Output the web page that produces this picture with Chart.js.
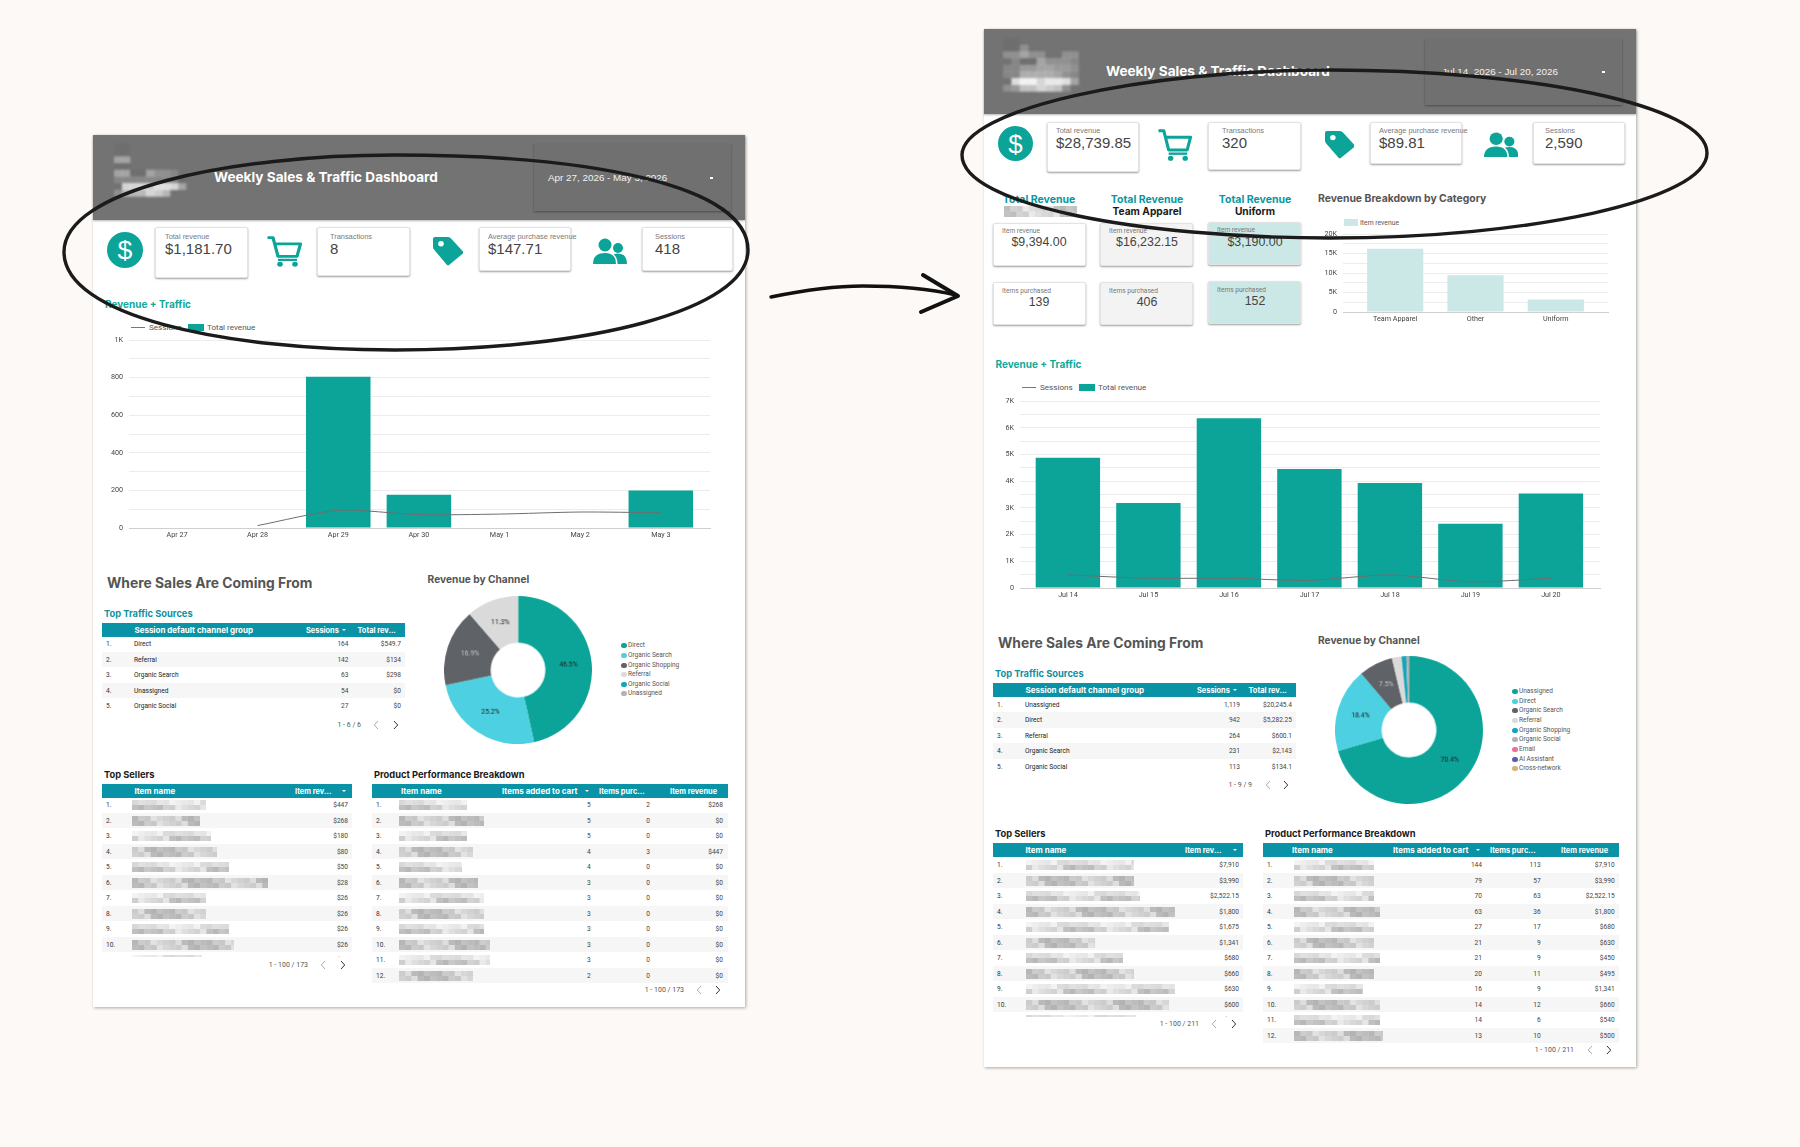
<!DOCTYPE html>
<html><head><meta charset="utf-8">
<script src="https://cdn.jsdelivr.net/npm/chart.js@4"></script>
<style>
html,body{margin:0;padding:0;background:#fcf9f6;width:1800px;height:1147px;overflow:hidden}
#stage{position:absolute;left:0;top:0;width:1800px;height:1147px;overflow:hidden;font-family:Roboto,sans-serif}
.t{position:absolute;white-space:nowrap;line-height:1}
canvas{position:absolute}
.layer{position:absolute;left:0;top:0;width:1800px;height:1147px}
</style></head><body><div id="stage"></div>
<script>
// ---------- DATA: earlier week ----------
const weekADays = ['Apr 27','Apr 28','Apr 29','Apr 30','May 1','May 2','May 3'];
const weekARevenue = [0,0,805,177,0,0,199.7];
const weekASessions = [null,13,94,71,74,85,81];
const weekAChannels = ['Direct','Organic Search','Organic Shopping','Referral','Organic Social','Unassigned'];
const weekAChannelRevenue = [549.7,298,200,134,0,0];
const weekAKpiLabels = ['Total revenue','Transactions','Average purchase revenue','Sessions'];
const weekAKpiValues = ['$1,181.70','8','$147.71','418'];
const weekATrafficNames = ['Direct','Referral','Organic Search','Unassigned','Organic Social'];
const weekATrafficSessions = ['164','142','63','54','27'];
const weekATrafficRevenue = ['$549.7','$134','$298','$0','$0'];
const weekASellerRevenue = ['$447','$268','$180','$80','$50','$28','$26','$26','$26','$26','$26'];
const weekACart = ['5','5','5','4','4','3','3','3','3','3','3','2'];
const weekAPurchased = ['2','0','0','3','0','0','0','0','0','0','0','0'];
const weekAItemRevenue = ['$268','$0','$0','$447','$0','$0','$0','$0','$0','$0','$0','$0'];

// ---------- DATA: later week ----------
const weekBDays = ['Jul 14','Jul 15','Jul 16','Jul 17','Jul 18','Jul 19','Jul 20'];
const weekBRevenue = [4875,3185,6355,4455,3930,2405,3535];
const weekBSessions = [490,365,365,285,490,230,365];
const weekBChannels = ['Unassigned','Direct','Organic Search','Referral','Organic Shopping','Organic Social','Email','AI Assistant','Cross-network'];
const weekBChannelRevenue = [20245.4,5282.25,2143,600.1,300,134.1,15,10,10];
const weekBKpiValues = ['$28,739.85','320','$89.81','2,590'];
const weekBTrafficNames = ['Unassigned','Direct','Referral','Organic Search','Organic Social'];
const weekBTrafficSessions = ['1,119','942','264','231','113'];
const weekBTrafficRevenue = ['$20,245.4','$5,282.25','$600.1','$2,143','$134.1'];
const weekBSellerRevenue = ['$7,910','$3,990','$2,522.15','$1,800','$1,675','$1,341','$680','$660','$630','$600','$540'];
const weekBCart = ['144','79','70','63','27','21','21','20','16','14','14','13'];
const weekBPurchased = ['113','57','63','36','17','9','9','11','9','12','6','10'];
const weekBItemRevenue = ['$7,910','$3,990','$2,522.15','$1,800','$680','$630','$450','$495','$1,341','$660','$540','$500'];
const categoryNames = ['Team Apparel','Other','Uniform'];
const categoryRevenue = [16232.15,9394,3190];
const categoryCardRevenue = ['$9,394.00','$16,232.15','$3,190.00'];
const categoryCardItems = ['139','406','152'];

// ---------- STYLE ----------
const TEAL='#0ca498', TEALTXT='#12a89b', TBLHEAD='#0a93a6', DEEP='#0f8f9f';
const PALETTE=['#0ca498','#4dd0e1','#5f6368','#dadada','#12a5bb','#b3b3b3','#ee6c9e','#5c5ea8','#d9b47a'];
const HEADFONT='Inter,sans-serif', ARIAL='"Liberation Sans",sans-serif';
const stage=document.getElementById('stage');
let cur=stage;

function box(x,y,w,h,css){const d=document.createElement('div');d.style.cssText=`position:absolute;left:${x}px;top:${y}px;width:${w}px;height:${h}px;box-sizing:border-box;${css||''}`;cur.appendChild(d);return d;}
function txt(x,y,s,o){o=o||{};const d=document.createElement('div');d.className='t';d.textContent=s;
 const tx=o.align==='right'?'-100%':o.align==='center'?'-50%':'0';
 d.style.cssText=`left:${x}px;top:${y}px;transform:translate(${tx},-50%);font:${o.weight||400} ${o.size||7}px ${o.font||'Roboto,sans-serif'};color:${o.color||'#333'};letter-spacing:${o.ls||0}px`;
 cur.appendChild(d);return d;}
function head(x,y,s,o){return txt(x,y-1,s,Object.assign({weight:700,font:HEADFONT},o));}
function svg(x,y,w,h,inner,vb){const d=document.createElement('div');d.style.cssText=`position:absolute;left:${x}px;top:${y}px;width:${w}px;height:${h}px`;
 d.innerHTML=`<svg xmlns="http://www.w3.org/2000/svg" width="${w}" height="${h}" viewBox="${vb||`0 0 ${w} ${h}`}" preserveAspectRatio="none" style="display:block">${inner}</svg>`;cur.appendChild(d);}
function card(x,y,w,h,bg){box(x,y,w,h,`background:${bg||'#fff'};border:1px solid #e3e3e3;border-radius:2px;box-shadow:0 1px 2px rgba(0,0,0,.38)`);}

const SHADES=[.30,.42,.22,.50,.34,.18,.46,.27,.38,.14,.44,.31];
function mosaic(x,y,w,seed,h){h=h||10;const cw=6.2,rows=2,rh=h/rows;let s='';
 const n=Math.ceil(w/cw);
 for(let r=0;r<rows;r++)for(let i=0;i<n;i++){
  const a=.85*SHADES[(i*5+r*7+seed*3)%SHADES.length]*(r===0&&seed%2?0.55:1);
  const cwi=Math.min(cw,w-i*cw);
  s+=`<rect x="${(i*cw).toFixed(1)}" y="${(r*rh).toFixed(1)}" width="${cwi.toFixed(1)}" height="${rh}" fill="#555" fill-opacity="${a.toFixed(2)}"/>`;}
 svg(x,y,w,h,s);cur.lastChild.style.filter='blur(.6px)';}

function logo(x,y,w,h,grid){const rows=grid.length,cols=grid[0].length,cw=w/cols,ch=h/rows;let s='';
 grid.forEach((row,r)=>[...row].forEach((c,i)=>{const v=parseInt(c,16);
  if(v)s+=`<rect x="${(i*cw).toFixed(1)}" y="${(r*ch).toFixed(1)}" width="${(cw+.3).toFixed(1)}" height="${(ch+.3).toFixed(1)}" fill="${v===1?'#666':'#fff'}" fill-opacity="${v===1?0.3:(v*0.07).toFixed(2)}"/>`;}));
 svg(x,y,w,h,s);cur.lastChild.style.filter='blur(1px)';}

function dollar(cx,cy,r){svg(cx-r,cy-r,2*r,2*r,`<circle cx="${r}" cy="${r}" r="${r}" fill="${TEAL}"/><text x="${r}" y="${r+r*.52}" text-anchor="middle" font-family="Liberation Sans" font-size="${r*1.48}" fill="#fff">$</text>`);}
function cart(x,y,w,h){svg(x,y,w,h,`<path d="M1.5 3H7L12 24H31L34.5 10H8.5" fill="none" stroke="${TEAL}" stroke-width="3.2" stroke-linejoin="round"/><path d="M12 28H31" stroke="${TEAL}" stroke-width="2.6"/><circle cx="14" cy="33" r="2.8" fill="${TEAL}"/><circle cx="29" cy="33" r="2.8" fill="${TEAL}"/>`,'0 0 37 36');}
function tag(x,y,w,h){svg(x,y,w,h,`<path d="M2 0H15Q17 0 18.5 2L30 15Q30.5 16 30 17L16 29Q15 30 14 29L1 13Q0 12 0 10V2Q0 0 2 0Z" fill="${TEAL}"/><circle cx="8" cy="7" r="2.8" fill="#fff"/>`,'0 0 30 30');}
function users(x,y,w,h){svg(x,y,w,h,`<circle cx="12" cy="7" r="6.5" fill="${TEAL}"/><circle cx="25" cy="10" r="5" fill="${TEAL}"/><path d="M0 26Q0 15 12 15Q23 15 23 26Z" fill="${TEAL}"/><path d="M24.5 26Q24.5 19 20.5 16.5Q23 15.5 25 15.5Q34 15.5 34 26Z" fill="${TEAL}"/>`,'0 0 34 26');}

function kpi(x,y,w,h,label,value,labelX,dy){card(x,y,w,h);
 txt(labelX,y+9.5+dy,label,{size:7.4,color:'#7a7a7a',font:ARIAL});
 txt(labelX,y+21.5+dy,value,{size:15,color:'#444',font:ARIAL});}

function header(x,y,w,dateText,dateX,dateBox,dot){
 box(x,y,w,85,'background:#737373;box-shadow:0 1px 2px rgba(0,0,0,.3)');
 box(dateBox[0],dateBox[1],dateBox[2],dateBox[3],'background:#707070;box-shadow:0 1px 2px rgba(0,0,0,.35)');
 txt(dateX,y+41.5,dateText,{size:9.85,color:'#f2f2f2',font:ARIAL});
 box(dot,y+41.5,2.5,2,'background:#fff');
}
function sortArrow(x,y){box(x,y-1,0,0,'border-left:2px solid transparent;border-right:2px solid transparent;border-top:2.5px solid #fff');}
function pager(textStr,textRight,y,c1,c2){
 txt(textRight,y,textStr,{size:7,align:'right',color:'#555'});
 svg(c1-3,y-5,6,10,'<path d="M5 1L1.3 5L5 9" fill="none" stroke="#aaa" stroke-width="1"/>');
 svg(c2-3,y-5,6,10,'<path d="M1 1L4.7 5L1 9" fill="none" stroke="#333" stroke-width="1"/>');}

function table(o){
 box(o.x,o.y,o.w,14,`background:${TBLHEAD}`);
 o.cols.forEach(c=>{if(c.label)txt(c.hx,o.y+7,c.label,{size:c.size||7.4,weight:700,color:'#fff',font:HEADFONT});if(c.arrow)sortArrow(c.arrow,o.y+7);});
 const keep=cur;
 const clip=document.createElement('div');clip.className='layer';
 clip.style.clipPath=`polygon(0 ${o.y+14}px,1800px ${o.y+14}px,1800px ${o.clipY}px,0 ${o.clipY}px)`;keep.appendChild(clip);cur=clip;
 for(let r=0;r<o.rows;r++){
  const cy=o.first+r*o.step;
  if(r%2===1)box(o.x,cy-o.step/2,o.w,o.step,'background:#f6f6f6');
  txt(o.x+4,cy,(r+1)+'.',{size:6.6,color:'#333'});
  o.cols.forEach(c=>{
   if(c.blur)mosaic(c.x,cy-5,c.blur[r]||80,r+(o.seed||0));
   else if(c.vals)txt(c.x,cy,c.vals[r],{size:6.6,color:c.color||'#444',align:c.align});});
 }
 cur=keep;
}

const xLinear=(days,lo,hi,h)=>({type:'linear',min:lo,max:hi,offset:false,grid:{display:false,offset:false,drawTicks:false},
 border:{color:'#cfcfcf'},
 afterBuildTicks(s){s.ticks=days.map((_,i)=>({value:i}));},
 ticks:{autoSkip:false,maxRotation:0,padding:3,color:'#444',font:{size:7.2,family:'Roboto'},callback:v=>days[v]},
 afterFit(s){s.height=h;s.paddingLeft=0;s.paddingRight=0;}});

function makeCanvas(x,y,w,h){const c=document.createElement('canvas');c.width=w;c.height=h;c.style.cssText=`left:${x}px;top:${y}px;width:${w}px;height:${h}px`;stage.appendChild(c);return c;}

function yScale(max,step,labelEvery,fmt,pad){return {min:0,max:max,grid:{color:'#ececec',drawTicks:false,lineWidth:1},border:{display:false},
  afterBuildTicks(s){const t=[];for(let v=0;v<=max;v+=step)t.push({value:v});s.ticks=t;},
  ticks:{autoSkip:false,padding:6,color:'#444',font:{size:7.2,family:'Roboto'},callback:v=>v%labelEvery?'':fmt(v)},
  afterFit(s){s.width=pad;s.paddingTop=0;s.paddingBottom=0;}};}

function combo(rect,days,rev,sess,step,labelEvery,max,fmt){
 const pad=32,top=5;
 const c=makeCanvas(rect.l-pad,rect.t-top,rect.r-rect.l+pad+2,rect.b-rect.t+top+16);
 new Chart(c,{type:'bar',data:{datasets:[
  {type:'line',label:'Sessions',data:days.map((_,i)=>({x:i,y:sess[i]})),borderColor:'#6e6e6e',borderWidth:1,pointRadius:0,tension:.25,spanGaps:false,order:1},
  {type:'bar',label:'Total revenue',data:days.map((_,i)=>({x:i,y:rev[i]})),backgroundColor:TEAL,categoryPercentage:.8,barPercentage:1,order:2}]},
 options:{responsive:false,animation:false,devicePixelRatio:1,layout:{padding:{top:top,right:2}},
  plugins:{legend:{display:false},tooltip:{enabled:false}},
  scales:{x:xLinear(days,-.595,6.61,16),y:yScale(max,step,labelEvery,fmt,pad)}}});
}

function donut(cx,cy,r,names,vals,legX,legYs){
 const c=makeCanvas(cx-r,cy-r,2*r,2*r);
 const total=vals.reduce((a,b)=>a+b,0);
 new Chart(c,{type:'doughnut',data:{labels:names,datasets:[{data:vals,backgroundColor:PALETTE.slice(0,names.length),borderWidth:0}]},
  options:{responsive:false,animation:false,devicePixelRatio:1,cutout:'37%',layout:{padding:0},plugins:{legend:{display:false},tooltip:{enabled:false}}},
  plugins:[{id:'pct',afterDatasetsDraw(ch){const g=ch.ctx,meta=ch.getDatasetMeta(0);g.save();g.font='400 6.8px Roboto';g.textAlign='center';g.textBaseline='middle';
   meta.data.forEach((a,i)=>{const p=vals[i]/total*100;if(p<5)return;const pos=a.getCenterPoint();
    g.fillStyle=PALETTE[i]==='#5f6368'?'#c4c4c4':'#222';
    g.fillText(p.toFixed(1)+'%',pos.x,pos.y);});g.restore();}}]});
 names.forEach((n,i)=>{box(legX,legYs[i]-2.5,5.5,5.5,`border-radius:50%;background:${PALETTE[i]}`);
  txt(legX+7,legYs[i],n,{size:6.5,color:'#555'});});
}

function miniBar(rect){
 const pad=26,top=5;
 const c=makeCanvas(rect.l-pad,rect.t-top,rect.r-rect.l+pad+2,rect.b-rect.t+top+14);
 new Chart(c,{type:'bar',data:{datasets:[{label:'Item revenue',data:categoryNames.map((_,i)=>({x:i,y:categoryRevenue[i]})),backgroundColor:'#cce8e6',categoryPercentage:.7,barPercentage:1}]},
  options:{responsive:false,animation:false,devicePixelRatio:1,layout:{padding:{top:top,right:2}},plugins:{legend:{display:false},tooltip:{enabled:false}},
   scales:{x:xLinear(categoryNames,-.65,2.65,14),y:yScale(20000,2500,5000,v=>v?v/1000+'K':'0',pad)}}});
}

// ---------- PAGE A ----------
box(93,135,652,872,'background:#fff;box-shadow:1px 1px 3px rgba(0,0,0,.32)');
header(93,135,652,`Apr 27, 2026 - May 3, 2026`,548,[534,144,197,67],710);
logo(114,143,80,60,['1100000000','1100000000','5500000000','1100000000','5511533200','2222222210','0AAA9BBA50','3777A97000','0000000000']);
head(214,178,'Weekly Sales & Traffic Dashboard',{size:13.6,color:'#fff'});
dollar(125,250,18);cart(266,235,37,32);tag(433,237,30,29);users(593,238,34,26);
kpi(155,227,93,51,weekAKpiLabels[0],weekAKpiValues[0],165,-1);
kpi(317,227,93,49,weekAKpiLabels[1],weekAKpiValues[1],330,-1);
kpi(479,227,92,44,weekAKpiLabels[2],weekAKpiValues[2],488,-1);
kpi(642,227,91,44,weekAKpiLabels[3],weekAKpiValues[3],655,-1);
head(105,305,'Revenue + Traffic',{size:10,color:TEALTXT});
box(131,326.5,14,1,'background:#777');txt(149,327,'Sessions',{size:8.1,color:'#555'});
box(188,323.5,16,7,`background:${TEAL}`);txt(207,327,'Total revenue',{size:8.1,color:'#555'});
head(107,584,'Where Sales Are Coming From',{size:13.85,color:'#555'});
head(427.6,580,'Revenue by Channel',{size:10.2,color:'#555'});
head(104,614,'Top Traffic Sources',{size:9.3,color:DEEP});
table({x:102,y:623,w:303,first:644,step:15.5,rows:5,clipY:717,seed:0,cols:[
 {label:'Session default channel group',size:8,hx:134.4,x:134,vals:weekATrafficNames,color:'#222'},
 {label:'Sessions',hx:306,arrow:342,x:348.5,vals:weekATrafficSessions,align:'right'},
 {label:'Total rev...',hx:357.5,x:401,vals:weekATrafficRevenue,align:'right'}]});
pager('1 - 6 / 6',361,725,376,395.6);
head(104,775,'Top Sellers',{size:9.3,color:'#1a1a1a'});
head(374,775,'Product Performance Breakdown',{size:9.3,color:'#1a1a1a'});
table({x:102,y:784,w:250,first:805,step:15.5,rows:11,clipY:957,seed:1,cols:[
 {label:'Item name',size:8,hx:134.4,x:131.5,blur:[74,68,79,85,97,136,74,74,97,102,70]},
 {label:'Item rev...',hx:295,arrow:342,x:348,vals:weekASellerRevenue,align:'right'}]});
pager('1 - 100 / 173',308,965,323,342.5);
table({x:372,y:784,w:356,first:805,step:15.5,rows:12,clipY:983,seed:5,cols:[
 {label:'Item name',size:8,hx:401,x:399,blur:[68,85,68,74,63,79,85,85,85,91,91,74]},
 {label:'Items added to cart',size:8,hx:502,arrow:585,x:590.8,vals:weekACart,align:'right'},
 {label:'Items purc...',hx:599,x:650,vals:weekAPurchased,align:'right'},
 {label:'Item revenue',hx:670,x:723,vals:weekAItemRevenue,align:'right'}]});
pager('1 - 100 / 173',684,990,699,718);

// ---------- PAGE B ----------
box(984,29,652,1038,'background:#fff;box-shadow:1px 1px 3px rgba(0,0,0,.32)');
header(984,29,652,'Jul 14, 2026 - Jul 20, 2026',1442,[1425,39,197,66],1602);
logo(1003,38,84,60,['1100000000','1130000000','3353300330','0211533320','2244554430','2266665320','0BDDACCB50','3488A98300','0000000000']);
head(1106,72,'Weekly Sales & Traffic Dashboard',{size:13.6,color:'#fff'});
dollar(1015.5,143.5,17.5);cart(1157,128,36,33);tag(1324.5,131,29.5,28);users(1483.5,132,34.5,25);
kpi(1046.5,121.5,92.5,50.5,weekAKpiLabels[0],weekBKpiValues[0],1056,-1.5);
kpi(1208,121.5,93,48.5,weekAKpiLabels[1],weekBKpiValues[1],1222,-1.5);
kpi(1370,121.5,92,42.5,weekAKpiLabels[2],weekBKpiValues[2],1379,-1.5);
kpi(1533,121.5,92,42.5,weekAKpiLabels[3],weekBKpiValues[3],1545,-1.5);

const centers=[1039,1147,1255], cx0=[993,1100,1208], fills=['#fff','#f3f3f3','#cce8e6'], subs=[null,'Team Apparel','Uniform'];
centers.forEach((c,i)=>{
 head(c,200,'Total Revenue',{size:10.5,color:'#0a97a0',align:'center'});
 if(subs[i])head(c,212,subs[i],{size:10.2,color:'#1a1a1a',align:'center'});
 else mosaic(1004,206,73,2,11);
 const dy=i===2?-1:0;
 card(cx0[i],223+dy,93,43,fills[i]);
 txt(cx0[i]+9,231+dy,'Item revenue',{size:6.6,color:'#777'});
 txt(c,242,categoryCardRevenue[i],{size:12.4,color:'#444',font:ARIAL,align:'center'});
 card(cx0[i],282+dy,93,43,fills[i]);
 txt(cx0[i]+9,291+dy,'Items purchased',{size:6.6,color:'#777'});
 txt(c,302+dy,categoryCardItems[i],{size:12.4,color:'#444',font:ARIAL,align:'center'});
});
head(1318,199,'Revenue Breakdown by Category',{size:10.4,color:'#555'});
box(1344,219,14,7,'background:#cce8e6');txt(1360,223,'Item revenue',{size:6.8,color:'#555'});

head(995.5,365,'Revenue + Traffic',{size:10,color:TEALTXT});
box(1021.6,386.5,14,1,'background:#777');txt(1040,387,'Sessions',{size:8.1,color:'#555'});
box(1079,383.5,16,7,`background:${TEAL}`);txt(1098,387,'Total revenue',{size:8.1,color:'#555'});
head(998,644,'Where Sales Are Coming From',{size:13.85,color:'#555'});
head(1318,641,'Revenue by Channel',{size:10.2,color:'#555'});
head(995,674,'Top Traffic Sources',{size:9.3,color:DEEP});
table({x:993,y:683,w:303,first:704.7,step:15.5,rows:5,clipY:777,cols:[
 {label:'Session default channel group',size:8,hx:1025.5,x:1025,vals:weekBTrafficNames,color:'#222'},
 {label:'Sessions',hx:1197,arrow:1233,x:1240,vals:weekBTrafficSessions,align:'right'},
 {label:'Total rev...',hx:1248.5,x:1292,vals:weekBTrafficRevenue,align:'right'}]});
pager('1 - 9 / 9',1252,785,1267.5,1286);
head(995,834,'Top Sellers',{size:9.3,color:'#1a1a1a'});
head(1265,834,'Product Performance Breakdown',{size:9.3,color:'#1a1a1a'});
table({x:993,y:843,w:250,first:865,step:15.5,rows:11,clipY:1017,seed:3,cols:[
 {label:'Item name',size:8,hx:1025.5,x:1025.5,blur:[108,108,114,149,143,69,97,108,149,143,110]},
 {label:'Item rev...',hx:1185,arrow:1233,x:1239,vals:weekBSellerRevenue,align:'right'}]});
pager('1 - 100 / 211',1199,1024,1214,1234);
table({x:1263,y:843,w:356,first:865,step:15.5,rows:12,clipY:1043,seed:7,cols:[
 {label:'Item name',size:8,hx:1292,x:1293.5,blur:[80,80,80,86,80,80,86,80,69,86,86,89]},
 {label:'Items added to cart',size:8,hx:1393,arrow:1476,x:1482,vals:weekBCart,align:'right'},
 {label:'Items purc...',hx:1490,x:1540.6,vals:weekBPurchased,align:'right'},
 {label:'Item revenue',hx:1561,x:1614.7,vals:weekBItemRevenue,align:'right'}]});
pager('1 - 100 / 211',1574,1050,1590,1609);

// ---------- CHARTS ----------
const kFmt=v=>v>=1000?(v/1000)+'K':String(v);
combo({l:128.6,r:710,t:340,b:528},weekADays,weekARevenue,weekASessions,100,200,1000,kFmt);
combo({l:1019.6,r:1600,t:400.7,b:588.3},weekBDays,weekBRevenue,weekBSessions,500,1000,7000,kFmt);
miniBar({l:1343,r:1608,t:234,b:312});
donut(518,670,73.6,weekAChannels,weekAChannelRevenue,621,[645,655,665,674,684,693]);
donut(1409,730,73.6,weekBChannels,weekBChannelRevenue,1512,[691,701,710,720,730,739,749,759,768]);

// ---------- HAND-DRAWN ANNOTATION ----------
const overlay=document.createElementNS('http://www.w3.org/2000/svg','svg');
overlay.setAttribute('width','1800');overlay.setAttribute('height','1147');overlay.style.cssText='position:absolute;left:0;top:0;pointer-events:none';
overlay.innerHTML=`
<path d="M64 252C64 190 230 155 395 155C590 155 748 185 748 250C748 310 590 350 395 350C220 350 64 315 64 252Z" fill="none" stroke="#1b1b1b" stroke-width="3.4"/>
<path d="M962 155C962 110 1140 70 1330 70C1530 70 1707 105 1707 153C1707 200 1530 238 1330 238C1140 238 962 205 962 155Z" fill="none" stroke="#1b1b1b" stroke-width="3.4"/>
<path d="M771 297C800 291 830 286 863 286C895 286 930 289 956 295" fill="none" stroke="#111" stroke-width="3.4" stroke-linecap="round"/>
<path d="M923 275L958 296L921 312" fill="none" stroke="#111" stroke-width="4" stroke-linecap="round" stroke-linejoin="round"/>`;
stage.appendChild(overlay);
</script></body></html>
